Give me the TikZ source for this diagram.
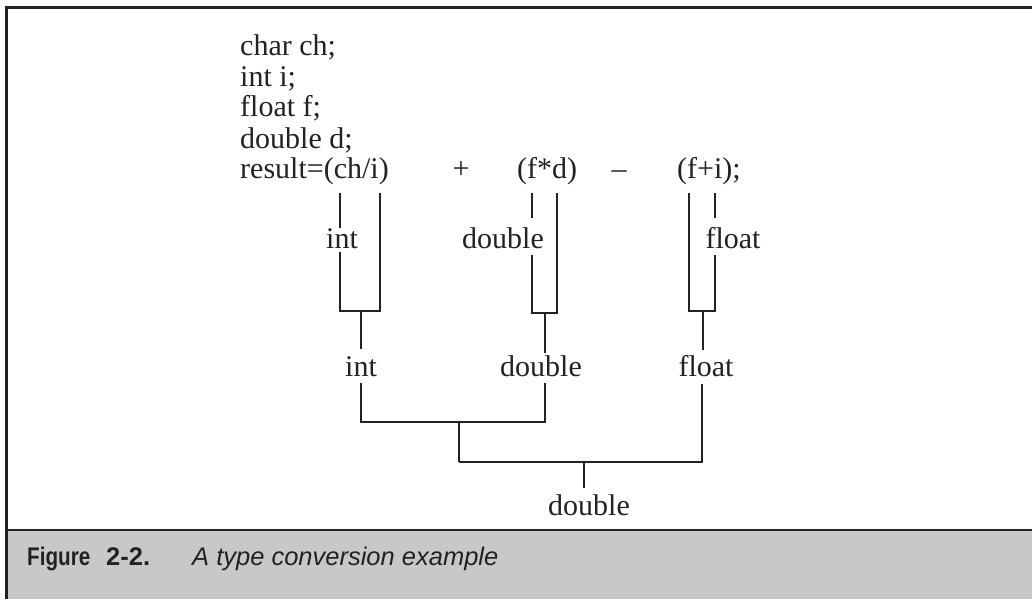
\documentclass[tikz,border=0pt]{standalone}
\usepackage{fontspec}
\setmainfont{Liberation Serif}
\newfontfamily\capfont{Liberation Sans}
\definecolor{capgray}{HTML}{C8C8CA}
\definecolor{ink}{HTML}{222222}
\begin{document}
\begin{tikzpicture}[x=1pt,y=-1pt,
  code/.style={anchor=base west,inner sep=0pt,text=ink,font=\fontsize{30}{30}\selectfont},
  lbl/.style={anchor=base,inner sep=0pt,text=ink,font=\fontsize{30}{30}\selectfont},
  wire/.style={line width=1.7pt,draw=ink},
  frameline/.style={line width=2.6pt,draw=ink,line join=miter},
  captext/.style={anchor=base west,inner sep=0pt,text=ink,font=\capfont\fontsize{25.5}{26}\selectfont}]
\useasboundingbox (0,0) rectangle (1032,599);
% caption band and frame
\fill[capgray] (6,530) rectangle (1032,599);
\draw[frameline] (6.3,599) -- (6.3,7.5) -- (1032,7.5);
\draw[frameline] (6.3,530) -- (1032,530);
\node[captext] (fig) at (27,565) {\bfseries\scalebox{0.81}[1]{Figure}};
\node[captext] (num) at (106,565) {\bfseries 2-2.};
\node[captext] (cap) at (192,565) {\itshape A type conversion example};
% code
\node[code] (l1) at (240,56) {char ch;};
\node[code] (l2) at (240,87) {int i;};
\node[code] (l3) at (240,117) {float f;};
\node[code] (l4) at (240,148) {double d;};
\node[code] (expr) at (240,178) {result=(ch/i)};
\node[lbl] (plus) at (461,178) {+};
\node[code] (fd) at (517,178) {(f*d)};
\node[lbl] (minus) at (619,178) {–};
\node[code] (fi) at (677,178) {(f+i);};
% level 1 labels
\node[lbl] (a1) at (342,248) {int};
\node[lbl] (b1) at (503,248) {double};
\node[lbl] (c1) at (733,248) {float};
% level 2 labels
\node[lbl] (a2) at (361,376) {int};
\node[lbl] (b2) at (541,376) {double};
\node[lbl] (c2) at (706,376) {float};
% result
\node[lbl] (r) at (589,515) {double};
% brackets
\draw[wire] (340,193) -- (340,228);
\draw[wire] (340,252) -- (340,311) -- (380,311) -- (380,193);
\draw[wire] (361,311) -- (361,349);
\draw[wire] (532,193) -- (532,218);
\draw[wire] (532,255) -- (532,313) -- (557,313) -- (557,193);
\draw[wire] (545,313) -- (545,353);
\draw[wire] (715,193) -- (715,218);
\draw[wire] (715,255) -- (715,311) -- (689,311) -- (689,193);
\draw[wire] (703,311) -- (703,350);
% tree
\draw[wire] (361,383) -- (361,422) -- (545,422) -- (545,383);
\draw[wire] (459,422) -- (459,462);
\draw[wire] (702,384) -- (702,462) -- (459,462);
\draw[wire] (584,462) -- (584,488);
\end{tikzpicture}
\end{document}
